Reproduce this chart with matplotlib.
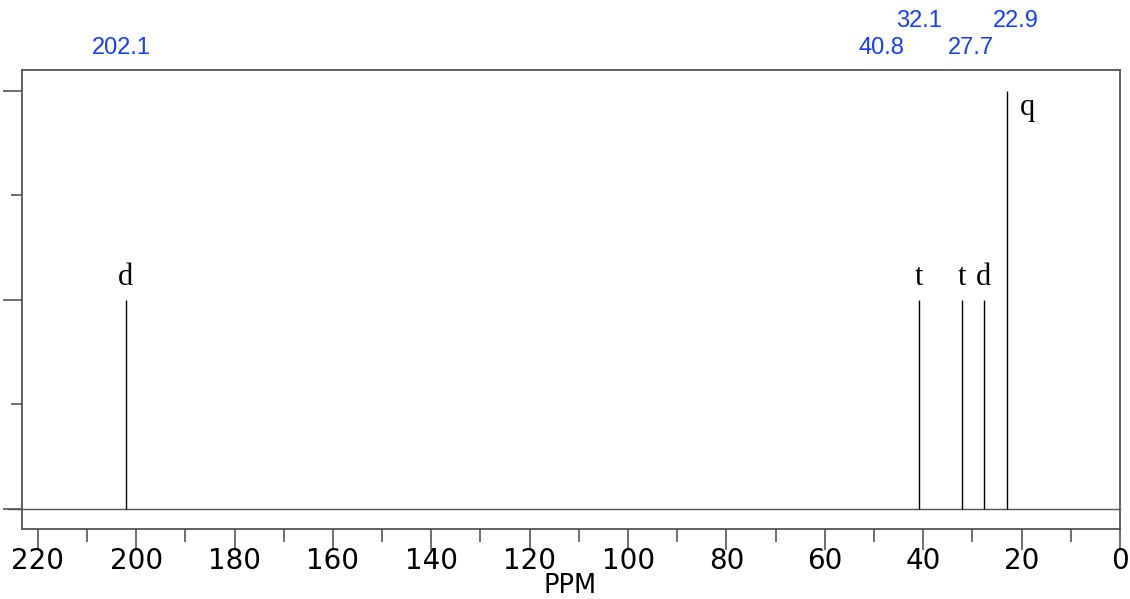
import matplotlib.pyplot as plt
import matplotlib.transforms as mtransforms
from matplotlib.ticker import MultipleLocator

# 13C NMR peaks
shifts = [202.1, 40.8, 32.1, 27.7, 22.9]
heights = [0.5, 0.5, 0.5, 0.5, 1.0]
mults = ["d", "t", "t", "d", "q"]
# label positions (ppm) and row for the blue shift labels
label_x = [202.9, 48.5, 40.8, 30.4, 21.2]
label_row = [0, 0, 1, 0, 1]

fig = plt.figure(figsize=(11.3, 5.99), dpi=100)
ax = fig.add_axes([22 / 1130, 70 / 599, 1098 / 1130, 459 / 599])

spine_col = "#555555"
for s in ax.spines.values():
    s.set_color(spine_col)
    s.set_linewidth(1.3)

ax.axhline(0, color=spine_col, linewidth=1.0, xmin=-0.013, clip_on=False)
ax.vlines(shifts, 0, heights, color="black", linewidth=1.0)

for x, h, m in zip(shifts, heights, mults):
    if m == "q":
        ax.text(x - 2.6, h - 0.005, m, ha="left", va="top",
                family="Liberation Serif", fontsize=22)
    else:
        ax.text(x, h + 0.02, m, ha="center", va="bottom",
                family="Liberation Serif", fontsize=22)

# blue shift labels: x in data, y in figure pixels
trans = mtransforms.blended_transform_factory(ax.transData, fig.transFigure)
for lx, s, r in zip(label_x, shifts, label_row):
    y = 48 if r == 0 else 21
    ax.text(lx, 1 - y / 599, f"{s:.1f}", transform=trans,
            color="#1a3cff", fontsize=17, family="Liberation Sans",
            ha="center", va="center")

ax.set_xlim(223.2, 0)
ax.set_ylim(-0.048, 1.05)

ax.xaxis.set_major_locator(MultipleLocator(20))
ax.xaxis.set_minor_locator(MultipleLocator(10))
ax.yaxis.set_major_locator(MultipleLocator(0.5))
ax.yaxis.set_minor_locator(MultipleLocator(0.25))
ax.set_yticklabels([])
ax.tick_params(axis="x", which="major", length=15, width=1.2, color=spine_col,
               labelsize=20, pad=-2)
ax.tick_params(axis="x", which="minor", length=9, width=1.2, color=spine_col)
ax.tick_params(axis="y", which="major", length=14, width=1.2, color=spine_col)
ax.tick_params(axis="y", which="minor", length=8, width=1.2, color=spine_col)
ax.set_xticklabels([str(int(v)) for v in ax.get_xticks()])

ax.set_xlabel("PPM", fontsize=18.5)
ax.xaxis.set_label_coords((570 - 22) / 1098, (529 - 586) / 459)
ax.xaxis.label.set_va("center")

fig.savefig("out.png", dpi=100)
